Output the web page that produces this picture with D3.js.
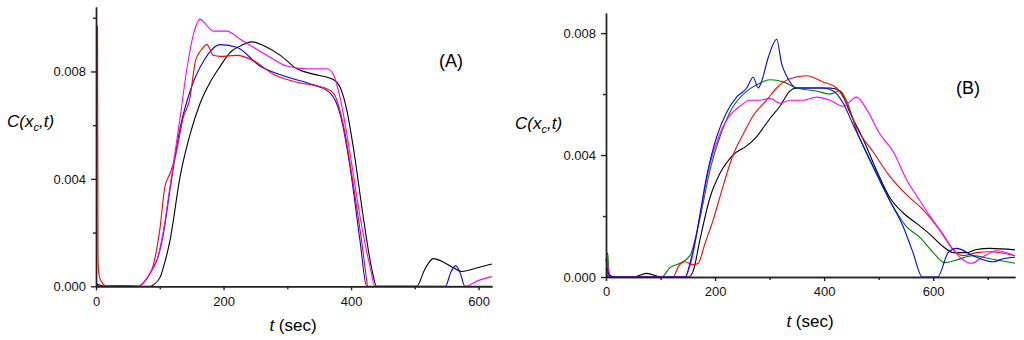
<!DOCTYPE html>
<html>
<head>
<meta charset="utf-8">
<script src="https://cdn.jsdelivr.net/npm/d3@7"></script>
<style>
	body { margin: 0; background: #fff; }
	svg { display: block; font-family: "Liberation Sans", Arial, sans-serif; }
	.axis path, .axis line { stroke: #222; stroke-width: 1.4; }
	.axis text { font-size: 13px; fill: #111; }
</style>
</head>
<body>
<svg id="chart" width="1024" height="340"></svg>
<script>
"use strict";

// panel (A) series: [t (sec), C]
var aBlack = [[0,0.0001],[5,0.00005],[20,0],[85,0],[90,0.00005],[101,0.00036],[108,0.0009],[116,0.0017],[132,0.0041],[148,0.0057],[163,0.0068],[179,0.0076],[195,0.0082],[210,0.0087],[231,0.0090],[244,0.0091],[268,0.0089],[289,0.0086],[315,0.0081],[341,0.0079],[372,0.0077],[383,0.0074],[393,0.0066],[404,0.0051],[419,0.0026],[432,0.0007],[440,0],[503,0],[515,0.0006],[529,0.00103],[545,0.0009],[560,0.0007],[573,0.00055],[600,0.0007],[621,0.00083]];
var aBlue = [[0,0.00005],[10,0],[20,0.00002],[40,0.00003],[66,0],[80,0.0003],[90,0.0007],[96,0.0010],[106,0.0020],[116,0.0036],[132,0.0059],[148,0.0073],[169,0.0084],[195,0.0090],[221,0.0089],[257,0.0082],[299,0.0078],[341,0.0075],[367,0.0072],[383,0.0064],[398,0.0045],[414,0.0017],[424.5,0],[548,0],[556,0.0005],[564,0.00077],[571,0.0005],[578.5,0],[621,0]];
var aRed = [[2.4,0.0097],[3.2,0.0009],[5,0.0004],[8,0.0002],[14,0.00003],[17,0],[66,0],[80,0.0003],[90,0.0008],[100,0.0021],[108,0.0037],[116,0.0042],[124,0.0048],[137,0.0063],[148,0.0071],[152,0.0078],[156,0.0084],[165,0.0088],[174,0.0090],[184,0.0086],[195,0.00856],[221,0.0086],[247,0.0084],[278,0.0079],[315,0.0076],[357,0.0074],[372,0.0072],[388,0.0060],[404,0.0037],[417,0.0016],[425.6,0]];
var aMagenta = [[0,0],[66,0],[80,0.0003],[90,0.0007],[96,0.0010],[106,0.0021],[116,0.0037],[132,0.0063],[142.5,0.0081],[153,0.0094],[163,0.00995],[174,0.0097],[184,0.0095],[205,0.0095],[226,0.0092],[247,0.0089],[268,0.0086],[299,0.0082],[330,0.0081],[362,0.0081],[372,0.0079],[383,0.0070],[398,0.0050],[414,0.0026],[430,0.0007],[437.5,0],[578.5,0],[600,0.00022],[621,0.00036]];

// panel (B) series
var bBlack = [[0,0.0001],[5,0],[50,0],[74.5,0.00012],[102,0],[151,0],[160,0.0002],[172,0.0012],[190.6,0.0026],[209,0.0034],[233,0.0040],[258,0.0043],[276,0.0046],[300.6,0.0052],[319,0.0056],[337,0.0061],[349.5,0.0062],[374,0.0062],[410.6,0.0062],[429,0.0061],[447,0.0054],[472,0.0045],[496,0.0035],[520.6,0.0026],[545,0.0021],[569.5,0.00176],[594,0.0014],[618,0.001],[637,0.0008],[661,0.0008],[679.5,0.0009],[704,0.00094],[750,0.00089]];
var bGreen = [[2.2,0.0008],[3.5,0.0007],[5.5,0.0001],[10,0],[102,0],[117,0.0003],[135.6,0.00045],[154,0.0007],[172,0.0019],[190.6,0.0035],[209,0.0046],[227,0.0054],[252,0.0060],[276,0.0063],[300.6,0.00647],[325,0.0064],[349.5,0.0062],[386,0.0061],[410.6,0.0060],[429,0.0061],[441,0.0058],[459.5,0.0048],[490,0.0036],[520.6,0.0025],[551,0.00165],[575.6,0.0013],[600,0.0008],[621,0.00047],[643,0.00056],[673,0.0007],[704,0.0006],[750,0.00045]];
var bRed = [[0,0.0003],[3,0.0001],[10,0],[123,0],[132.6,0.00034],[145,0.0005],[160,0.0004],[169,0.00045],[181.5,0.0011],[197,0.0019],[215,0.003],[233,0.0040],[252,0.0047],[270,0.0053],[294.5,0.0058],[313,0.0062],[337,0.0065],[368,0.0066],[398,0.0064],[423,0.0062],[441,0.0057],[459.5,0.0049],[490,0.0041],[520.6,0.0033],[551,0.0027],[581.6,0.0022],[612,0.00154],[637,0.00089],[655,0.0007],[679.5,0.0008],[704,0.00083],[750,0.0007]];
var bMagenta = [[2,0.0007],[3.8,0.0003],[8,0.00005],[15,0],[145,0],[157,0.00056],[172,0.002],[190.6,0.0037],[209,0.0047],[227,0.0053],[245.6,0.0056],[264,0.0058],[282,0.0058],[300.6,0.00586],[319,0.0057],[337,0.0058],[362,0.0058],[386,0.0059],[410.6,0.0058],[435,0.0056],[459.5,0.0059],[478,0.0055],[502,0.0047],[527,0.0041],[551,0.0032],[575.6,0.0025],[594,0.002],[618,0.0014],[637,0.00089],[655,0.00056],[670,0.00045],[692,0.00067],[716,0.00086],[750,0.0007]];
var bBlue = [[0,0.0006],[3,0.0002],[8,0.00003],[15,0],[145,0],[154,0.00045],[166,0.0014],[184.5,0.0033],[203,0.0046],[221,0.0054],[239.5,0.0059],[258,0.0062],[270,0.00655],[279,0.0062],[285,0.0064],[297.5,0.0072],[313,0.0078],[322,0.0070],[331,0.0066],[349.5,0.0062],[374,0.0062],[398,0.0062],[417,0.0061],[435,0.0057],[453,0.0050],[472,0.0043],[496,0.0034],[520.6,0.0025],[545,0.00165],[563,0.0008],[580,0],[608,0],[627.5,0.0008],[643,0.00094],[673,0.0007],[710,0.0005],[728,0.0006],[750,0.00065]];

var xMajorA = [0, 200, 400, 600], xMinorA = [100, 300, 500];
var xMajorB = [0, 200, 400, 600], xMinorB = [100, 300, 500, 700];
var yMajor = [0, 0.004, 0.008];
var yMinorA = [0.002, 0.006, 0.010], yMinorB = [0.002, 0.006];

var panels = [
	{ id: "A", x: [96, 492], y: [286.3, 7], tMax: 621, cMax: 0.0104,
		xMajor: xMajorA, xMinor: xMinorA, yMinor: yMinorA,
		series: [[aBlack, "#000"], [aBlue, "#0000ff"], [aRed, "#ff0000"], [aMagenta, "#ff00ff"]],
		tag: [451, 67], ylab: [7, 127], xlab: [293, 331] },
	{ id: "B", x: [606, 1015], y: [277, 13], tMax: 750, cMax: 0.00866,
		xMajor: xMajorB, xMinor: xMinorB, yMinor: yMinorB,
		series: [[bBlack, "#000"], [bGreen, "#008000"], [bRed, "#ff0000"], [bMagenta, "#ff00ff"], [bBlue, "#0000ff"]],
		tag: [968, 94], ylab: [515, 129], xlab: [810, 327] }
];

var svg = d3.select("#chart");

panels.forEach(function(p) {
	var x = d3.scaleLinear().domain([0, p.tMax]).range(p.x);
	var y = d3.scaleLinear().domain([0, p.cMax]).range(p.y);
	var g = svg.append("g");

	var line = d3.line()
		.x(function(d) { return x(d[0]); })
		.y(function(d) { return y(d[1]); })
		.curve(d3.curveMonotoneX);

	// curves under the axes so the zero stretches hide behind the baseline
	p.series.forEach(function(s) {
		g.append("path").datum(s[0])
			.attr("fill", "none").attr("stroke", s[1]).attr("stroke-width", 1.1)
			.attr("d", line);
	});

	g.append("g").attr("class", "axis").attr("transform", "translate(0," + p.y[0] + ")")
		.call(d3.axisBottom(x).tickValues(p.xMinor).tickSize(3).tickSizeOuter(0).tickFormat(""));
	g.append("g").attr("class", "axis").attr("transform", "translate(0," + p.y[0] + ")")
		.call(d3.axisBottom(x).tickValues(p.xMajor).tickSize(4).tickSizeOuter(0).tickPadding(6));
	g.append("g").attr("class", "axis").attr("transform", "translate(" + p.x[0] + ",0)")
		.call(d3.axisLeft(y).tickValues(p.yMinor).tickSize(3).tickSizeOuter(0).tickFormat(""));
	g.append("g").attr("class", "axis").attr("transform", "translate(" + p.x[0] + ",0)")
		.call(d3.axisLeft(y).tickValues(yMajor).tickSize(5).tickSizeOuter(0).tickPadding(5)
			.tickFormat(d3.format(".3f")));

	g.append("text").attr("x", p.tag[0]).attr("y", p.tag[1])
		.attr("text-anchor", "middle").attr("font-size", 18).text("(" + p.id + ")");

	var yl = g.append("text").attr("x", p.ylab[0]).attr("y", p.ylab[1])
		.attr("font-size", 17).attr("font-style", "italic");
	yl.append("tspan").text("C(x");
	yl.append("tspan").attr("font-size", 11).attr("dy", 4).text("c");
	yl.append("tspan").attr("dy", -4).text(",t)");

	var xl = g.append("text").attr("x", p.xlab[0]).attr("y", p.xlab[1])
		.attr("text-anchor", "middle").attr("font-size", 17);
	xl.append("tspan").attr("font-style", "italic").text("t");
	xl.append("tspan").text(" (sec)");
});
</script>
</body>
</html>
